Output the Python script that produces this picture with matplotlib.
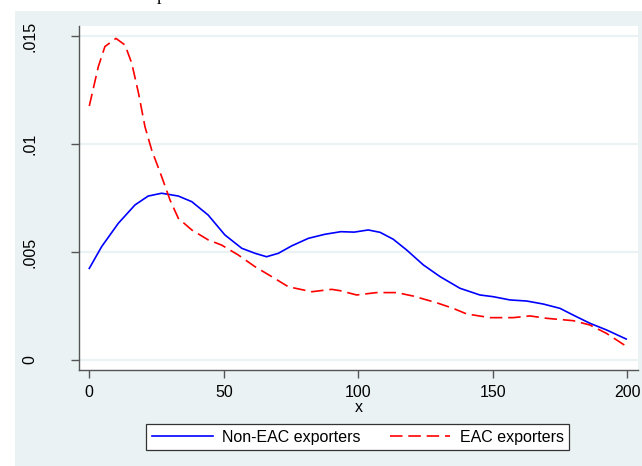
import matplotlib.pyplot as plt
from matplotlib.patches import Rectangle

# kernel density estimates read at a set of x points
non_eac_x = [0, 4.6, 10.8, 17, 21.9, 26.9, 33.1, 38.1, 44.2, 50.4, 56.7, 61.6, 65.9,
             70.3, 75.2, 81.4, 87.6, 93.5, 98.5, 103.7, 108.1, 113, 118, 124.2, 130.4,
             137.8, 145.2, 150.2, 156.4, 162.6, 168.8, 175, 179.9, 186.1, 192.3, 199.6]
non_eac_y = [0.00424, 0.00525, 0.00633, 0.00718, 0.00759, 0.00772, 0.00759, 0.00733,
             0.00671, 0.00579, 0.00517, 0.00494, 0.00478, 0.00494, 0.00528, 0.00563,
             0.00582, 0.00594, 0.00592, 0.00602, 0.00591, 0.00559, 0.00509, 0.0044,
             0.00386, 0.00332, 0.00301, 0.00293, 0.00278, 0.00273, 0.00259, 0.00239,
             0.00208, 0.0017, 0.00139, 0.00097]

eac_x = [0, 3.35, 5.8, 9.9, 13.3, 15.8, 18.3, 20.7, 23.2, 26.9, 30, 33.1, 38.1, 44.2,
         49.2, 55.4, 61.6, 67.8, 74, 82.7, 90.1, 93.2, 99.4, 106.8, 114.3, 120.4, 129.1,
         135.3, 140.3, 149, 157.6, 163.8, 170, 179.9, 186.1, 192.3, 199.8]
eac_y = [0.01176, 0.01358, 0.01451, 0.01489, 0.01458, 0.01373, 0.01235, 0.0108,
         0.00972, 0.00849, 0.00741, 0.00656, 0.00602, 0.00556, 0.00532, 0.00486,
         0.00432, 0.00386, 0.00339, 0.00316, 0.00327, 0.00321, 0.00301, 0.00312,
         0.00312, 0.00296, 0.00265, 0.00239, 0.00213, 0.00196, 0.00196, 0.00204,
         0.00193, 0.00182, 0.00162, 0.00123, 0.00062]

x_ticks = [0, 50, 100, 150, 200]
y_ticks = [0, 0.005, 0.01, 0.015]
y_tick_labels = ["0", ".005", ".01", ".015"]
labels = ["Non-EAC exporters", "EAC exporters"]

plt.rcParams['font.family'] = ['Liberation Sans', 'DejaVu Sans']
bg = '#EAF2F3'
axis_col = '#555555'

fig = plt.figure(figsize=(6.42, 4.66), dpi=100)
fig.patches.append(Rectangle((15 / 642, 0), 1 - 15 / 642, 1 - 11 / 466,
                             transform=fig.transFigure, facecolor=bg,
                             edgecolor='none', zorder=-10))
# title line sits above the visible area, only its descender shows
fig.text(157 / 642, 1.0, "p", family='Liberation Serif', fontsize=13,
         va='baseline', ha='left')

ax = fig.add_axes([0.1235, 0.2067, 0.8703, 0.7375])
ax.set_facecolor('white')

ax.plot(non_eac_x, non_eac_y, color='#0000FF', lw=1.2, solid_joinstyle='round',
        label=labels[0])
ax.plot(eac_x, eac_y, color='#FF0000', lw=1.2, dashes=(7.5, 3.5),
        dash_joinstyle='round', label=labels[1])

ax.set_xlim(-3.72, 204.0)
ax.set_ylim(-0.000449, 0.015463)
ax.set_xticks(x_ticks)
ax.set_yticks(y_ticks)
ax.set_yticklabels(y_tick_labels, rotation=90, va='center')
ax.grid(axis='y', color=bg, lw=1.6)
ax.set_axisbelow(True)

for side in ['top', 'right']:
    ax.spines[side].set_visible(False)
for side in ['left', 'bottom']:
    ax.spines[side].set_color(axis_col)
    ax.spines[side].set_linewidth(1.0)
ax.tick_params(axis='both', colors=axis_col, labelcolor='black',
               labelsize=11.5, length=6, width=1.0)
ax.tick_params(axis='x', pad=4.8)
ax.tick_params(axis='y', pad=24)
ax.set_xlabel("x", fontsize=11.5, labelpad=0)

leg = fig.legend(loc='center', bbox_to_anchor=(0.5576, 0.0622), ncol=2,
                 fontsize=11.5, frameon=True, fancybox=False, framealpha=1,
                 edgecolor='#333333', handlelength=3.8, handletextpad=0.6,
                 columnspacing=1.8, borderpad=0.35)
leg.get_frame().set_linewidth(0.9)

fig.savefig("out.png", dpi=100)
